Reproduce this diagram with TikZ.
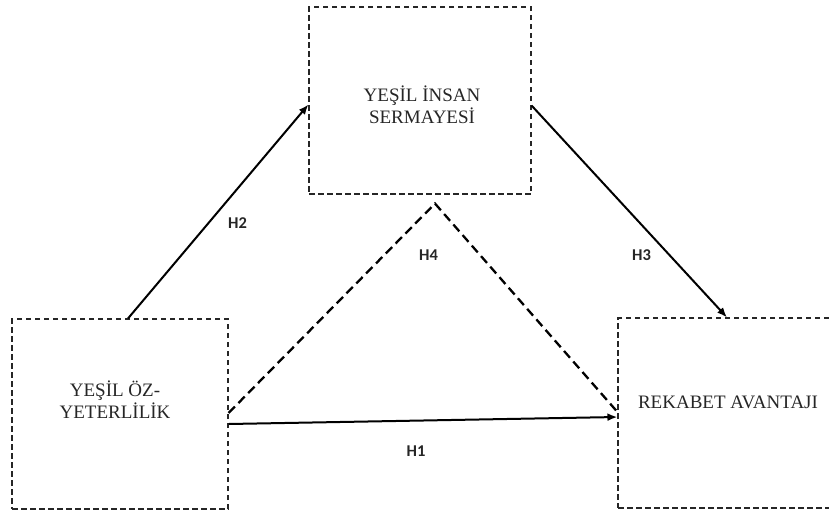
\documentclass[tikz,border=0pt]{standalone}
\usepackage{fontspec}
\setmainfont{Liberation Serif}
\newfontfamily\lblfont{Carlito}
\usetikzlibrary{arrows.meta}
\tikzset{
  box/.style={draw=black!85, line width=1.1pt, dash pattern=on 5.5pt off 3.5pt, minimum width=#1, minimum height=190pt, inner sep=0pt},
  boxtext/.style={font=\fontsize{19}{22}\selectfont, align=center, text=black!85, inner sep=0pt},
  hyp/.style={font=\lblfont\bfseries\fontsize{16.5}{18}\selectfont, text=black!85, inner sep=0pt},
  arr/.style={line width=2pt, -{Latex[length=10pt,width=8pt]}},
  med/.style={line width=2.3pt, dash pattern=on 9pt off 5pt}
}
\begin{document}
\begin{tikzpicture}[x=1pt,y=-1pt]
\useasboundingbox (0,0) rectangle (829,512);
\clip (0,0) rectangle (829,512);
% boxes
\node[box=222pt, minimum height=187pt] (top) at (420,100.5) {};
\node[box=216pt] (left) at (120,414) {};
\node[box=222pt] (right) at (729,413) {};
% texts
\node[boxtext] (ttop) at (422,105) {YEŞİL İNSAN\\SERMAYESİ};
\node[boxtext] (tleft) at (115,400) {YEŞİL ÖZ-\\YETERLİLİK};
\node[boxtext] (tright) at (728,402) {REKABET AVANTAJI};
% coordinates
\coordinate (apex) at ([xshift=15pt,yshift=-9pt]top.south);
% arrows
\draw[arr] ([xshift=8pt]left.north) -- ([yshift=-4pt]top.west);
\draw[arr] ([yshift=-5pt]top.east) -- ([xshift=-2pt]right.north);
\draw[arr] ([yshift=-10pt]left.east) -- ([yshift=-4pt]right.west);
\draw[med] ([yshift=1pt]left.east) -- (apex) -- ([yshift=1pt]right.west);
% labels
\node[hyp] (h2) at (237.5,223) {H2};
\node[hyp] (h4) at (428.5,255.5) {H4};
\node[hyp] (h3) at (641.5,255.5) {H3};
\node[hyp] (h1) at (416,451) {H1};
\end{tikzpicture}
\end{document}
